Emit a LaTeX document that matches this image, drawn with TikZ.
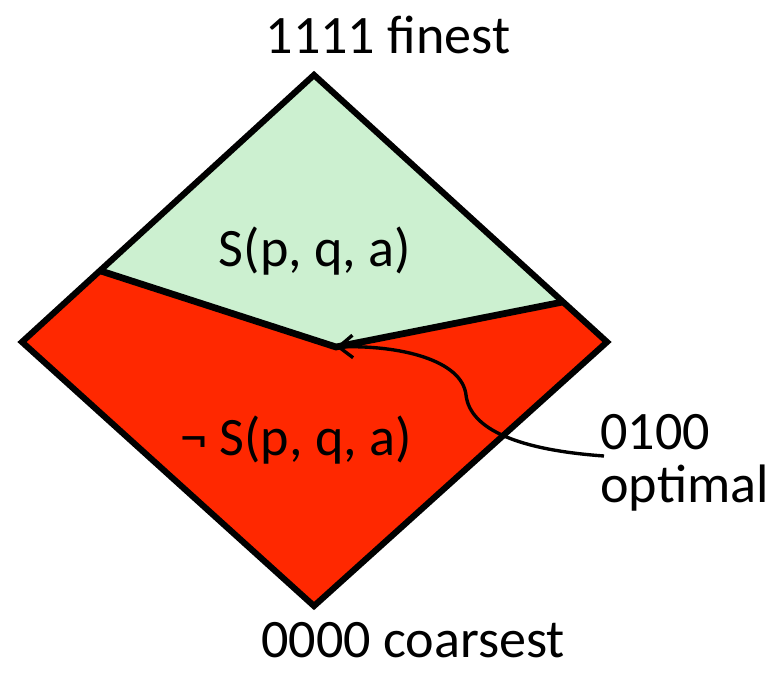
\documentclass[tikz,border=0pt]{standalone}
\usepackage{fontspec}
\setmainfont{Carlito}
\usepackage{xcolor}
\usepackage{tikz}
\usetikzlibrary{positioning,calc,arrows.meta}
\definecolor{lightgreen}{RGB}{204,240,208}
\definecolor{brightred}{RGB}{255,40,0}

\begin{document}
\begin{tikzpicture}[x=0.025cm,y=-0.025cm,
	txt/.style={font=\fontsize{38.5}{38}\selectfont, inner sep=0pt}]
\useasboundingbox (0,0) rectangle (781,674);

\coordinate (top) at (314,75);
\coordinate (left) at (22,342);
\coordinate (bottom) at (314,606);
\coordinate (right) at (607,342);
\coordinate (cl) at ($(left)!0.267!(top)$);
\coordinate (cr) at ($(top)!0.85!(right)$);
\coordinate (cm) at (336,347);
\coordinate (tail) at (604,456);

\fill[lightgreen] (cl) -- (top) -- (cr) -- (cm) -- cycle;
\fill[brightred] (cl) -- (cm) -- (cr) -- (right) -- (bottom) -- (left) -- cycle;
\draw[line width=4.4pt, line join=miter] (top) -- (right) -- (bottom) -- (left) -- cycle;
\draw[line width=4.8pt] (cl) -- (cm) -- (cr);

\node[txt](finest) at (388,35) {1111 finest};
\node[txt](coarsest) at (413,640) {0000 coarsest};
\node[txt](sat) at (315,251) {S(p, q, a)};
\node[txt](notsat) at (296,440) {¬ S(p, q, a)};
\node[txt, align=left, anchor=west](optimal) at (600,463) {0100\\optimal};

\draw[line width=2.4pt, -{Straight Barb[length=10pt,width=16pt]}] (tail)
	.. controls (520,450) and (470,430) .. (466,395)
	.. controls (462,360) and (400,345) .. (cm);
\end{tikzpicture}
\end{document}
